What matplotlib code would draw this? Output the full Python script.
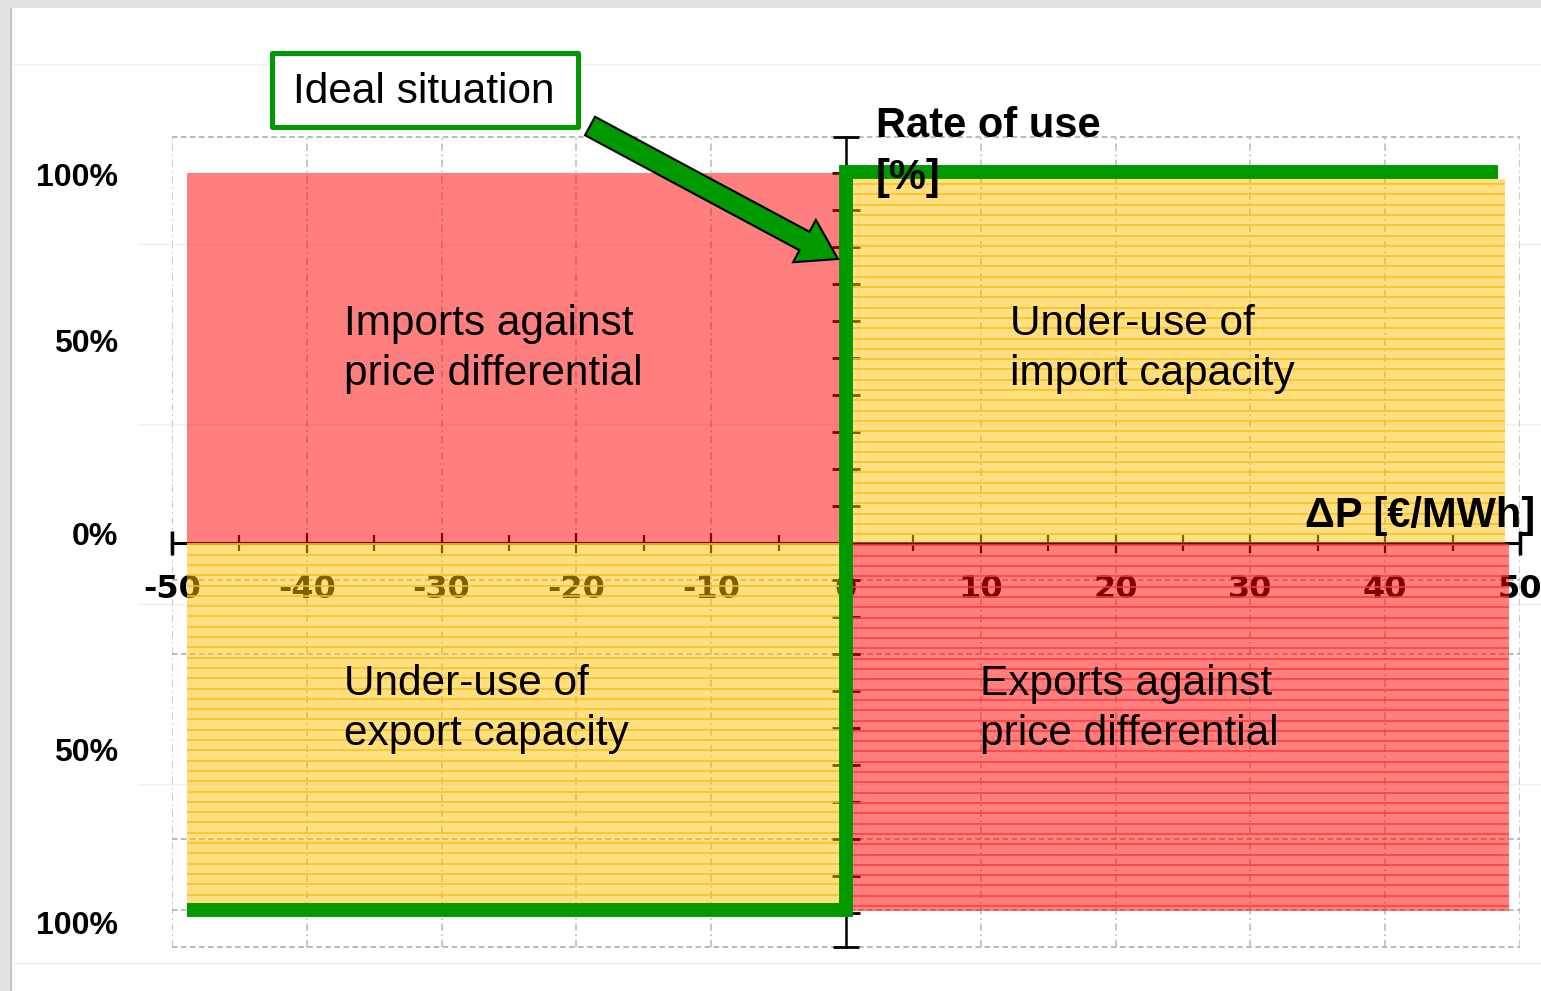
import matplotlib
matplotlib.use('Agg')
import matplotlib.pyplot as plt
from matplotlib.patches import Rectangle, FancyArrow
import numpy as np

W, H = 1541, 991

# axis values
x_major = [-50, -40, -30, -20, -10, 0, 10, 20, 30, 40, 50]
x_minor = [-45, -35, -25, -15, -5, 5, 15, 25, 35, 45]
x_labels = ['-50', '-40', '-30', '-20', '-10', '0', '10', '20', '30', '40', '50']
y_ticks = [-100, -90, -80, -70, -60, -50, -40, -30, -20, -10, 0, 10, 20, 30, 40, 50, 60, 70, 80, 90, 100]
y_labels = ['100%', '50%', '0%', '50%', '100%']
grid_rows = [-10, -30, -80, -99.2]

# quadrants
quad_names = ['Imports against\nprice differential', 'Under-use of\nimport capacity',
              'Under-use of\nexport capacity', 'Exports against\nprice differential']
quad_x0 = [-48.9, 0, -48.9, 0]
quad_x1 = [0, 48.9, 0, 49.2]
quad_y0 = [0, 0, -99.2, -99.5]
quad_y1 = [100, 98.4, 0, 0]
quad_kind = ['red', 'yellow', 'yellow', 'red']
quad_striped = [False, True, True, True]

# ideal situation line
ideal_x = [-48.9, 0, 0, 48.4]
ideal_y = [-99.2, -99.2, 100.3, 100.3]

GREEN = '#009900'
fills = {'red': (1, 0, 0, 0.5), 'yellow': (1, 0.753, 0, 0.5)}
stripes = {'red': '#ff3a3a', 'yellow': '#f7c21c'}

fig = plt.figure(figsize=(W / 100, H / 100), dpi=100)

# slide background
bg = fig.add_axes([0, 0, 1, 1], zorder=0)
bg.set_xlim(0, W)
bg.set_ylim(H, 0)
bg.axis('off')
bg.add_patch(Rectangle((0, 0), W, 8, color='#e2e2e4', lw=0))
bg.add_patch(Rectangle((0, 0), 10, H, color='#e2e2e4', lw=0))
bg.add_patch(Rectangle((10, 8), 2, H, color='#c4c4c4', lw=0))
for yy in [64, 963]:
	bg.plot([12, W], [yy, yy], color='#efefef', lw=1)
for yy in [244, 424, 604, 784]:
	bg.plot([138, W], [yy, yy], color='#efefef', lw=1)

# chart
top_px, bot_px, zero_px, scale = 137, 947, 543, 3.7
ax = fig.add_axes([172 / W, (H - bot_px) / H, (1520 - 172) / W, (bot_px - top_px) / H], zorder=1)
ax.patch.set_visible(False)
ax.set_xlim(-50, 50)
ylo, yhi = -(bot_px - zero_px) / scale, (zero_px - top_px) / scale
ax.set_ylim(ylo, yhi)

for s in ['top', 'right']:
	ax.spines[s].set_visible(False)
ax.spines['left'].set_position(('data', 0))
ax.spines['bottom'].set_position(('data', 0))
ax.spines['left'].set_linewidth(1.8)
ax.spines['bottom'].set_linewidth(2.2)

ax.set_xticks(x_major)
ax.set_xticklabels(x_labels, fontsize=23, fontweight='bold', family='DejaVu Sans')
ax.set_xticks(x_minor, minor=True)
ax.tick_params(axis='x', which='major', direction='inout', length=14.4, width=1.6, pad=15)
ax.tick_params(axis='x', which='minor', direction='inout', length=11.5, width=1.6)
ax.set_yticks(y_ticks)
ax.set_yticklabels([])
ax.tick_params(axis='y', direction='inout', length=20, width=2)

ax.plot([-50, 50], [0, 0], ls='none', marker='|', ms=17, mew=2.5, color='k', clip_on=False)
ax.plot([0, 0], [ylo, yhi], ls='none', marker='_', ms=19, mew=2, color='k', clip_on=False)

gstyle = dict(color='#c4c4c4', lw=1.3, ls=(0, (4, 2, 1, 2)), zorder=0.5)
for gx in x_major:
	ax.axvline(gx, **gstyle)
for gy in grid_rows + [ylo, yhi]:
	ax.axhline(gy, color='#b4b4b4', lw=1.3, ls=(0, (3, 2)), zorder=0.5, clip_on=False)

step = 10.3 / scale
for x0, x1, y0, y1, kind, striped in zip(quad_x0, quad_x1, quad_y0, quad_y1, quad_kind, quad_striped):
	ax.add_patch(Rectangle((x0, y0), x1 - x0, y1 - y0, facecolor=fills[kind], lw=0, zorder=3))
	if striped:
		ys = np.arange(y1 - step / 2, y0, -step) if y0 == 0 else np.arange(y0 + step / 2, y1, step)
		ax.hlines(ys, x0, x1, color=stripes[kind], lw=1.1, zorder=3.1)

ax.plot(ideal_x, ideal_y, color=GREEN, lw=10, solid_joinstyle='miter',
	solid_capstyle='butt', zorder=4, clip_on=False)

# annotations
fg = fig.add_axes([0, 0, 1, 1], zorder=3)
fg.set_xlim(0, W)
fg.set_ylim(H, 0)
fg.axis('off')
fg.patch.set_visible(False)

font = 'Liberation Sans'
for name, px, py in zip(quad_names, [344, 1010, 344, 980], [349, 349, 709, 709]):
	fg.text(px, py, name, fontsize=30.5, family=font, ha='left', va='center', linespacing=1.33)

fg.add_patch(Rectangle((272, 53), 306, 74, facecolor='white', edgecolor=GREEN, lw=3.6, joinstyle='round'))
fg.text(424, 92, 'Ideal situation', fontsize=30.5, family=font, ha='center', va='center')
fg.add_patch(FancyArrow(590, 126, 248, 133, width=21, head_width=48, head_length=38,
	length_includes_head=True, facecolor=GREEN, edgecolor='black', lw=1.5))

fg.text(876, 152, 'Rate of use\n[%]', fontsize=30, family=font, fontweight='bold',
	ha='left', va='center', linespacing=1.38)
fg.text(1305, 516, '\u0394P [\u20ac/MWh]', fontsize=30, family=font, fontweight='bold',
	ha='left', va='center')

for lab, py in zip(y_labels, [178, 344, 537, 753, 926]):
	fg.text(118, py, lab, fontsize=23, family=font, fontweight='bold', ha='right', va='center')

fig.savefig('out.png', dpi=100)
